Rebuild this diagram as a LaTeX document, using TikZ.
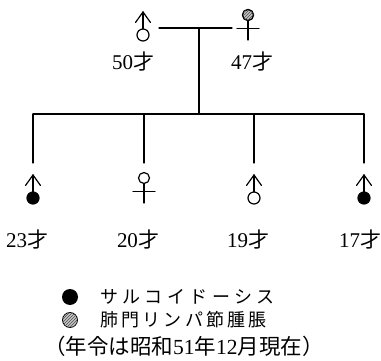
\documentclass[tikz,border=0pt]{standalone}
\usepackage{fontspec}
\setmainfont{Liberation Serif}
\newfontfamily\cjk{Noto Sans CJK JP}
\usetikzlibrary{patterns}
\tikzset{
  ln/.style={line width=1.2pt, line cap=round},
  malesym/.pic={
    \draw[ln] (0,-6) -- (0,-23);
    \draw[ln, line join=miter] (-7.5,-12.5) -- (0,-23) -- (7.5,-12.5);
    \draw[line width=1.2pt, fill=#1] (0,0) circle (6);
  },
  femsym/.pic={
    \draw[ln] (0,5.5) -- (0,25);
    \draw[ln] (-11,13.5) -- (11,13.5);
    \draw[line width=1.2pt, fill=white] (0,0) circle (5.5);
  },
  agelbl/.style={font=\fontsize{21}{21}\selectfont, inner sep=0pt},
  hatch/.style={fill=gray!45, postaction={pattern=north east lines, pattern color=black!70}}
}
\begin{document}
\begin{tikzpicture}[x=1pt,y=-1pt]
\useasboundingbox (0,0) rectangle (381,361);
% parents
\coordinate (father) at (143,35);
\pic at (father) {malesym=white};
\coordinate (mother) at (248,15);
\pic at (mother) {femsym};
\draw[line width=1.2pt, hatch] (mother) circle (5.5);
\node[agelbl] (fl) at (133,62) {50{\cjk 才}};
\node[agelbl] (ml) at (252,62) {47{\cjk 才}};
% connectors
\coordinate (mL) at (159,28);
\coordinate (mR) at (232,28);
\coordinate (mid) at (199,28);
\coordinate (sib) at (199,114);
\coordinate (s1) at (33,114);
\coordinate (s4) at (364,114);
\coordinate (s2) at (144,114);
\coordinate (s3) at (254,114);
\coordinate (d1) at (33,163);
\coordinate (d2) at (144,163);
\coordinate (d3) at (254,163);
\coordinate (d4) at (364,163);
\draw[ln] (mL) -- (mR);
\draw[ln] (mid) -- (sib);
\draw[ln] (s1) -- (s4);
\draw[ln] (s1) -- (d1);
\draw[ln] (s2) -- (d2);
\draw[ln] (s3) -- (d3);
\draw[ln] (s4) -- (d4);
% children
\coordinate (c1) at (33,198);
\pic at (c1) {malesym=black};
\coordinate (c2) at (144,178);
\pic at (c2) {femsym};
\coordinate (c3) at (254,198);
\pic at (c3) {malesym=white};
\coordinate (c4) at (364,198);
\pic at (c4) {malesym=black};
\node[agelbl] (l1) at (27,240) {23{\cjk 才}};
\node[agelbl] (l2) at (138,240) {20{\cjk 才}};
\node[agelbl] (l3) at (248,240) {19{\cjk 才}};
\node[agelbl] (l4) at (360,240) {17{\cjk 才}};
% legend
\fill (70,297) circle (8);
\draw[line width=0.8pt, hatch] (70,320) circle (7.5);
\node[anchor=west, inner sep=0pt, font=\cjk\fontsize{18}{18}\selectfont\addfontfeatures{LetterSpace=25}] (leg1) at (100,297) {サルコイドーシス};
\node[anchor=west, inner sep=0pt, font=\cjk\fontsize{18}{18}\selectfont\addfontfeatures{LetterSpace=18}] (leg2) at (100,320) {肺門リンパ節腫脹};
\node[anchor=west, inner sep=0pt, font=\fontsize{21.5}{21.5}\selectfont] (leg3) at (44,346) {{\cjk （年令は昭和}51{\cjk 年}12{\cjk 月現在）}};
\end{tikzpicture}
\end{document}
